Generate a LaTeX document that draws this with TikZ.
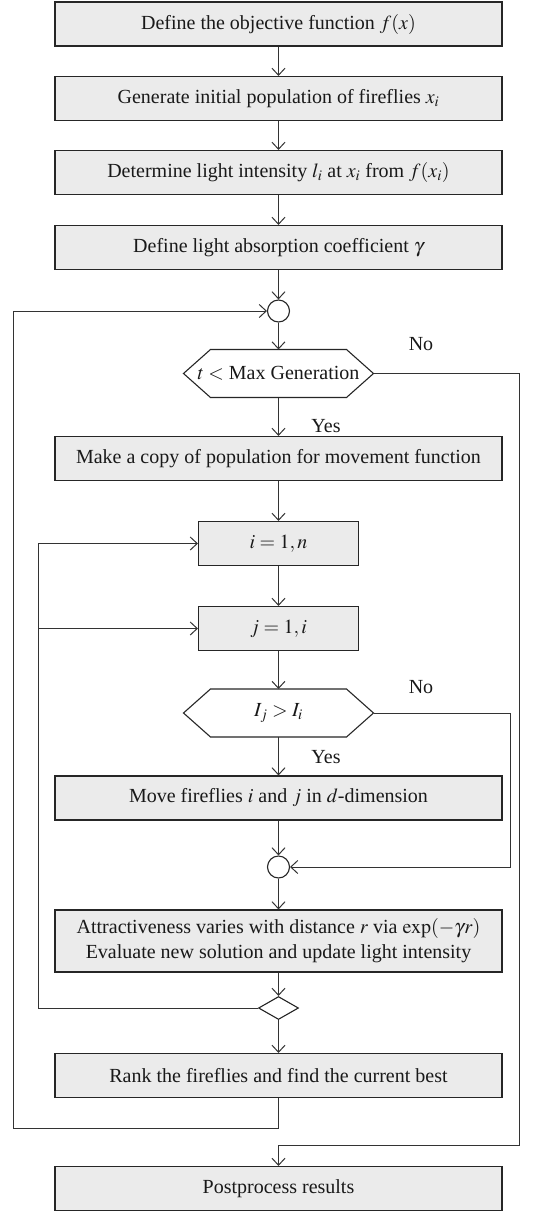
\documentclass[tikz,border=0pt]{standalone}
\usepackage{mathptmx}
\usepackage{fontspec}
\setmainfont{Liberation Serif}
\usetikzlibrary{arrows.meta,shapes.geometric,calc}
\begin{document}
\begin{tikzpicture}[x=1pt,y=-1pt,
  line width=1pt, draw=black!80,
  txt/.style={font=\fontsize{20}{25}\selectfont, text=black!90},
  box/.style={txt, draw=black!85, line width=1.1pt, fill=black!8, minimum width=447pt,
    minimum height=44pt, inner sep=0pt, align=center},
  smallbox/.style={box, minimum width=160pt},
  hexa/.style={txt, draw=none, minimum width=189pt, minimum height=47pt, inner sep=0pt},
  hexline/.style={draw=black!85, line width=1.1pt, fill=white},
  joint/.style={circle, draw=black!85, line width=1.1pt, fill=white, minimum size=22pt, inner sep=0pt},
  merge/.style={diamond, draw=black!85, line width=1.1pt, fill=white, minimum width=40pt,
    minimum height=23pt, inner sep=0pt},
  arr/.style={-{Straight Barb[length=7pt,width=13pt]}},
  lbl/.style={txt}
]
\useasboundingbox (0,0) rectangle (545,1211);

\node[box] (b1) at (278.5,24) {Define the objective function $f(x)$};
\node[box] (b2) at (278.5,98.5) {Generate initial population of fireflies $x_i$};
\node[box] (b3) at (278.5,172.5) {Determine light intensity $l_i$ at $x_i$ from $f(x_i)$};
\node[box] (b4) at (278.5,247.5) {Define light absorption coefficient $\gamma$};
\node[joint] (c1) at (278.5,311) {};
\node[hexa] (h1) at (278.5,373.5) {$t<$ Max Generation};
\draw[hexline] (h1.west) -- ($(h1.north west)+(27,0)$) -- ($(h1.north east)+(-27,0)$) -- (h1.east)
  -- ($(h1.south east)+(-27,0)$) -- ($(h1.south west)+(27,0)$) -- cycle;
\node[hexa] at (h1) {$t<$ Max Generation};
\node[box] (b5) at (278.5,458.5) {Make a copy of population for movement function};
\node[smallbox] (bi) at (278.5,543.5) {$i = 1, n$};
\node[smallbox] (bj) at (278.5,628.5) {$j = 1, i$};
\node[hexa] (h2) at (278.5,713) {};
\draw[hexline] (h2.west) -- ($(h2.north west)+(27,0)$) -- ($(h2.north east)+(-27,0)$) -- (h2.east)
  -- ($(h2.south east)+(-27,0)$) -- ($(h2.south west)+(27,0)$) -- cycle;
\node[hexa] at (h2) {$I_j > I_i$};
\node[box] (bm) at (278.5,798) {Move fireflies $i$ and $j$ in $d$-dimension};
\node[joint] (c2) at (278.5,867) {};
\node[box, minimum height=62pt] (ba) at (278.5,941) {Attractiveness varies with distance $r$ via $\exp(-\gamma r)$\\Evaluate new solution and update light intensity};
\node[merge] (d) at (278.5,1008) {};
\node[box] (br) at (278.5,1075.5) {Rank the fireflies and find the current best};
\node[box] (bp) at (278.5,1188.5) {Postprocess results};

\node[lbl] (no1) at (421,344) {No};
\node[lbl] (yes1) at (326,426) {Yes};
\node[lbl] (no2) at (421,687) {No};
\node[lbl] (yes2) at (326,757) {Yes};

\coordinate (r1a) at (519,373.5);
\coordinate (r1b) at (519,1145);
\coordinate (r1c) at (278.5,1145);
\coordinate (r2) at (510,713);
\coordinate (ld) at (38,1008);
\coordinate (li) at (38,543.5);
\coordinate (lj) at (38,628.5);
\coordinate (o1) at (278.5,1128);
\coordinate (o2) at (13,1128);
\coordinate (o3) at (13,311);

\draw[arr] (b1.south) -- (b2.north);
\draw[arr] (b2.south) -- (b3.north);
\draw[arr] (b3.south) -- (b4.north);
\draw[arr] (b4.south) -- (c1.north);
\draw[arr] (c1.south) -- (h1.north);
\draw[arr] (h1.south) -- (b5.north);
\draw[arr] (b5.south) -- (bi.north);
\draw[arr] (bi.south) -- (bj.north);
\draw[arr] (bj.south) -- (h2.north);
\draw[arr] (h2.south) -- (bm.north);
\draw[arr] (bm.south) -- (c2.north);
\draw[arr] (h2.east) -- (r2) |- (c2.east);
\draw[arr] (c2.south) -- (ba.north);
\draw[arr] (ba.south) -- (d.north);
\draw[arr] (d.west) -- (ld) -- (li) -- (bi.west);
\draw[arr] (lj) -- (bj.west);
\draw[arr] (d.south) -- (br.north);
\draw[arr] (br.south) -- (o1) -- (o2) -- (o3) -- (c1.west);
\draw[arr] (h1.east) -- (r1a) -- (r1b) -- (r1c) -- (bp.north);
\end{tikzpicture}
\end{document}
